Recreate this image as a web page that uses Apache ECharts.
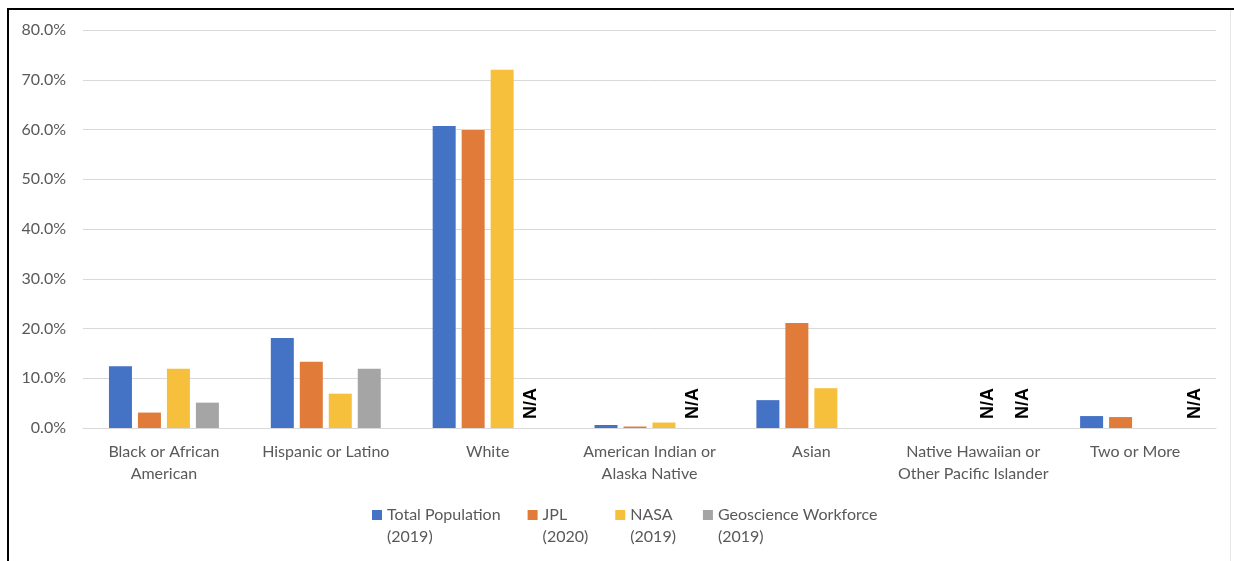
<!DOCTYPE html>
<html>
<head>
    <meta charset="utf-8">
    <title>Race / ethnicity</title>
    <script src="https://cdn.jsdelivr.net/npm/echarts@6/dist/echarts.min.js"></script>
    <style>
      body { padding: 0; margin: 0; background: #fff; }
      #main { width: 1234px; height: 561px; }
    </style>
</head>
<body>
  <div id="main"></div>
  <script type="text/javascript">
    var categories = ['Black or African\nAmerican', 'Hispanic or Latino', 'White', 'American Indian or\nAlaska Native',
      'Asian', 'Native Hawaiian or\nOther Pacific Islander', 'Two or More']
    var seriesNames = ['Total Population\n(2019)', 'JPL\n(2020)', 'NASA\n(2019)', 'Geoscience Workforce\n(2019)']
    // null = N/A in the source
    var totalPop = [12.4, 18.1, 60.7, 0.6, 5.6, 0, 2.4]
    var jpl = [3.1, 13.3, 59.9, 0.3, 21.1, 0, 2.2]
    var nasa = [11.9, 6.9, 72.0, 1.1, 8.0, null, 0]
    var geo = [5.1, 11.9, null, null, 0, null, null]
    var colors = ['#4472c4', '#e07b39', '#f6bf3c', '#a5a5a5']
    var yTicks = { min: 0, max: 80, interval: 10 }

    var font = 'Lato, "Open Sans", sans-serif'
    var naOffset = { 5: 6, 6: 16 }

    function build(values, isGeo) {
      return values.map(function (v, i) {
        if (v !== null) return v
        var off = isGeo && naOffset[i] ? naOffset[i] : 0
        return {
          value: 0,
          label: {
            show: true, formatter: 'N/A', position: 'top', rotate: 90,
            align: 'left', verticalAlign: 'middle', distance: 9,
            offset: [0, off],
            color: '#000', fontWeight: 'bold', fontSize: 18,
            fontFamily: '"Liberation Sans", Arial, sans-serif'
          }
        }
      })
    }

    var allData = [totalPop, jpl, nasa, geo]
    var series = allData.map(function (arr, k) {
      return {
        name: seriesNames[k],
        type: 'bar',
        barWidth: 23,
        barGap: '26%',
        itemStyle: { color: colors[k] },
        data: build(arr, k === 3),
        animation: false
      }
    })

    var myChart = echarts.init(document.getElementById('main'))
    var option = {
      animation: false,
      grid: { left: 83, right: 18, top: 30, bottom: 133 },
      legend: {
        left: 367, top: 499,
        itemWidth: 10, itemHeight: 32,
        itemGap: 27, itemTextGap: 4,
        icon: 'path://M0,0h10v10h-10zM0,32h0',
        textStyle: { color: '#595959', fontSize: 16, lineHeight: 22, fontFamily: font },
        data: seriesNames
      },
      xAxis: {
        type: 'category',
        data: categories,
        axisTick: { show: false },
        axisLine: { lineStyle: { color: '#d9d9d9', width: 1 } },
        axisLabel: { interval: 0, margin: 13, color: '#595959', fontSize: 16, lineHeight: 22, fontFamily: font }
      },
      yAxis: {
        type: 'value',
        min: yTicks.min, max: yTicks.max, interval: yTicks.interval,
        axisLine: { show: false },
        axisTick: { show: false },
        splitLine: { lineStyle: { color: '#d9d9d9', width: 1 } },
        axisLabel: {
          margin: 17, color: '#595959', fontSize: 16, fontFamily: font,
          formatter: function (v) { return v.toFixed(1) + '%' }
        }
      },
      graphic: [
        { type: 'line', shape: { x1: 8, y1: 8, x2: 8, y2: 561 }, style: { stroke: '#000', lineWidth: 2 } },
        { type: 'line', shape: { x1: 7, y1: 9, x2: 1234, y2: 9 }, style: { stroke: '#000', lineWidth: 2 } },
        { type: 'line', shape: { x1: 1230.5, y1: 10, x2: 1230.5, y2: 561 }, style: { stroke: '#e6e6e6', lineWidth: 1 } }
      ],
      series: series
    }
    myChart.setOption(option)
  </script>
</body>
</html>
